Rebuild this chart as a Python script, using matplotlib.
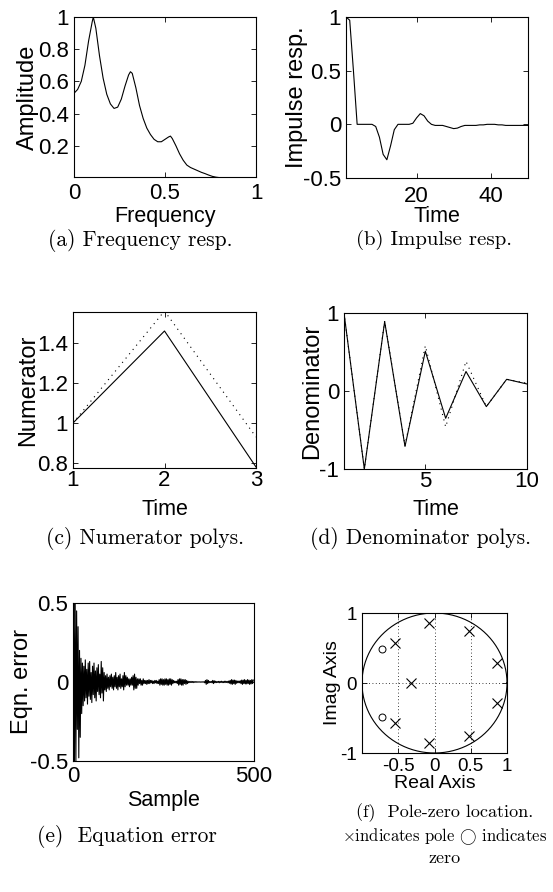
import numpy as np
import matplotlib
matplotlib.use("Agg")
import matplotlib.pyplot as plt

plt.rcParams['font.family'] = ['Liberation Sans', 'DejaVu Sans']
plt.rcParams['mathtext.fontset'] = 'cm'
plt.rcParams['axes.unicode_minus'] = False

# ---------------- data ----------------
# (a) frequency response
freq = [0.0, 0.02, 0.04, 0.06, 0.08, 0.10, 0.106, 0.12, 0.14, 0.16, 0.18, 0.20,
        0.22, 0.24, 0.26, 0.28, 0.30, 0.31, 0.32, 0.34, 0.36, 0.38, 0.40, 0.42,
        0.44, 0.46, 0.48, 0.50, 0.52, 0.53, 0.54, 0.56, 0.58, 0.60, 0.62, 0.64,
        0.66, 0.68, 0.70, 0.72, 0.74, 0.76, 0.78, 0.80, 0.85, 0.90, 0.95, 1.0]
amplitude = [0.526, 0.55, 0.60, 0.70, 0.85, 0.97, 1.0, 0.93, 0.76, 0.62, 0.52, 0.46,
             0.432, 0.44, 0.49, 0.57, 0.64, 0.66, 0.65, 0.56, 0.45, 0.37, 0.31, 0.27,
             0.24, 0.225, 0.225, 0.24, 0.255, 0.26, 0.245, 0.20, 0.15, 0.11, 0.08, 0.065,
             0.055, 0.045, 0.035, 0.027, 0.018, 0.01, 0.005, 0.002, 0.001, 0.0, 0.0, 0.0]

# (b) impulse response
imp_time = list(range(1, 51))
impulse = [1.0, 0.97, 0.5, 0.0, 0.0, 0.0, 0.0, 0.0, -0.02, -0.12,
           -0.28, -0.33, -0.2, -0.05, 0.0, 0.0, 0.0, 0.0, 0.01, 0.06,
           0.1, 0.08, 0.03, 0.0, -0.01, -0.01, -0.01, -0.02, -0.03, -0.04,
           -0.035, -0.02, -0.01, -0.01, -0.01, -0.01, -0.005, -0.005, 0.0, 0.0,
           0.0, -0.005, -0.005, -0.01, -0.01, -0.01, -0.01, -0.01, -0.01, -0.01]

# (c) numerator polynomials
num_time = [1, 2, 3]
num_est = [1.0, 1.46, 0.78]
num_true = [1.0, 1.56, 0.93]

# (d) denominator polynomials
den_time = list(range(1, 11))
den_est = [1.0, -1.0, 0.89, -0.71, 0.51, -0.35, 0.25, -0.2, 0.15, 0.09]
den_true = [1.0, -1.0, 0.9, -0.7, 0.58, -0.46, 0.38, -0.2, 0.15, 0.1]

# (e) equation error (every 2nd sample)
eqn_error = [
    0.1, 0.5, -0.5, 0.5, -0.5, 0.45, -0.3, 0.35, -0.48, 0.2,
    -0.35, 0.15, -0.2, 0.12, -0.15, 0.1, -0.12, 0.14, -0.1, 0.08,
    -0.14, 0.12, -0.09, 0.13, -0.11, 0.06, -0.13, 0.1, -0.08, 0.12,
    -0.1, 0.07, -0.12, 0.09, -0.06, 0.11, -0.08, 0.05, -0.1, 0.13,
    -0.07, 0.09, -0.12, 0.06, -0.05, 0.04, -0.06, 0.05, -0.04, 0.03,
    -0.05, 0.04, -0.03, 0.05, -0.04, 0.03, -0.05, 0.04, -0.03, 0.06,
    -0.04, 0.03, -0.05, 0.04, -0.03, 0.05, -0.04, 0.02, -0.03, 0.04,
    -0.05, 0.06, -0.03, 0.04, -0.02, 0.03, -0.02, 0.02, -0.03, 0.02,
    -0.02, 0.03, -0.02, 0.04, -0.05, 0.05, -0.04, 0.03, -0.04, 0.02,
    -0.02, 0.02, -0.01, 0.02, -0.02, 0.01, -0.02, 0.02, -0.01, 0.01,
    -0.01, 0.01, -0.015, 0.01, -0.01, 0.015, -0.01, 0.01, -0.005, 0.01,
    -0.01, 0.005, -0.01, 0.01, -0.005, 0.01, -0.01, 0.005, -0.01, 0.015,
    -0.02, 0.02, -0.015, 0.02, -0.02, 0.015, -0.02, 0.02, -0.015, 0.02,
    -0.02, 0.015, -0.02, 0.02, -0.015, 0.02, -0.02, 0.015, -0.01, 0.01,
    -0.005, 0.005, -0.005, 0.005, -0.01, 0.015, -0.02, 0.02, -0.015, 0.02,
    -0.02, 0.015, -0.02, 0.015, -0.01, 0.015, -0.015, 0.01, -0.01, 0.005,
    -0.005, 0.003, -0.003, 0.004, -0.003, 0.003, -0.004, 0.003, -0.002, 0.002,
    -0.002, 0.002, -0.001, 0.001, -0.001, 0.001, -0.001, 0.001, -0.001, 0.001,
    -0.001, 0.002, -0.005, 0.01, -0.015, 0.015, -0.01, 0.01, -0.005, 0.003,
    -0.003, 0.004, -0.005, 0.01, -0.01, 0.008, -0.005, 0.005, -0.004, 0.003,
    -0.003, 0.004, -0.005, 0.004, -0.003, 0.005, -0.004, 0.003, -0.004, 0.005,
    -0.004, 0.005, -0.003, 0.004, -0.005, 0.006, -0.008, 0.01, -0.012, 0.015,
    -0.015, 0.012, -0.01, 0.012, -0.015, 0.01, -0.008, 0.006, -0.005, 0.006,
    -0.005, 0.008, -0.01, 0.012, -0.015, 0.012, -0.01, 0.015, -0.012, 0.01,
    -0.012, 0.015, -0.01, 0.012, -0.015, 0.01, -0.012, 0.015, -0.01, 0.012]
eqn_sample = np.arange(0, 2 * len(eqn_error), 2)

# (f) poles and zeros
pole_re = [-0.08, -0.08, 0.48, 0.48, 0.86, 0.86, -0.54, -0.54, -0.32]
pole_im = [0.86, -0.86, 0.75, -0.75, 0.29, -0.29, 0.57, -0.57, 0.0]
zero_re = [-0.72, -0.72]
zero_im = [0.49, -0.49]

captions = [r'(a) Frequency resp.', r'(b) Impulse resp.', r'(c) Numerator polys.',
            r'(d) Denominator polys.', r'(e)  Equation error']

# ---------------- layout ----------------
W, H = 553, 892
fig = plt.figure(figsize=(W / 100, H / 100), dpi=100)

TICK_FS, XL_FS, YL_FS = 16, 15.5, 17


def ax_at(l, t, r, b):
    return fig.add_axes([l / W, 1 - b / H, (r - l) / W, (b - t) / H])


def style(ax, fs=TICK_FS, xpad=3.0):
    ax.tick_params(direction='in', top=True, right=True, length=3.5, width=0.6,
                   labelsize=fs, colors='black')
    ax.tick_params(axis='y', pad=3.5)
    ax.tick_params(axis='x', pad=xpad)
    for s in ax.spines.values():
        s.set_linewidth(0.8)


def labels(ax, xl, yl, l, t, r, b, xtop, yright, xfs=XL_FS, yfs=YL_FS):
    ax.set_xlabel(xl, fontsize=xfs, va='top')
    ax.set_ylabel(yl, fontsize=yfs)
    ax.xaxis.set_label_coords(0.5, (b - xtop) / (b - t))
    ax.yaxis.set_label_coords((yright - l) / (r - l), 0.5)


def caption(x, y, s, fs=15.5):
    fig.text(x / W, 1 - y / H, s, ha='center', va='center', fontsize=fs,
             family='cmr10')


lw = 0.8

# (a)
box = (74, 17, 256, 177)
ax = ax_at(*box)
ax.plot(freq, amplitude, color='black', lw=lw)
ax.set_xlim(0, 1)
ax.set_ylim(0.006, 1.0)
ax.set_xticks([0, 0.5, 1])
ax.set_xticklabels(['0', '0.5', '1'])
ax.set_yticks([0.2, 0.4, 0.6, 0.8, 1])
ax.set_yticklabels(['0.2', '0.4', '0.6', '0.8', '1'])
style(ax, xpad=4.0)
labels(ax, 'Frequency', 'Amplitude', *box, xtop=206, yright=39)
caption(140, 240, captions[0])

# (b)
box = (346, 17, 528, 178)
ax = ax_at(*box)
ax.plot(imp_time, impulse, color='black', lw=lw)
ax.set_xlim(1, 50)
ax.set_ylim(-0.5, 1.0)
ax.set_xticks([20, 40])
ax.set_yticks([-0.5, 0, 0.5, 1])
ax.set_yticklabels(['-0.5', '0', '0.5', '1'])
style(ax, xpad=6.0)
labels(ax, 'Time', 'Impulse resp.', *box, xtop=206, yright=308)
caption(434, 240, captions[1], fs=15)

# (c)
box = (73, 312, 256, 468)
ax = ax_at(*box)
ax.plot(num_time, num_est, color='black', lw=lw)
ax.plot(num_time, num_true, color='black', lw=lw, ls=(0, (1, 4)))
ax.set_xlim(1, 3)
ax.set_ylim(0.775, 1.555)
ax.set_xticks([1, 2, 3])
ax.set_yticks([0.8, 1.0, 1.2, 1.4])
ax.set_yticklabels(['0.8', '1', '1.2', '1.4'])
style(ax, xpad=1.5)
labels(ax, 'Time', 'Numerator', *box, xtop=499, yright=39)
caption(145, 539, captions[2])

# (d)
box = (344, 313, 527, 469)
ax = ax_at(*box)
ax.plot(den_time, den_est, color='black', lw=lw)
ax.plot(den_time, den_true, color='black', lw=lw, ls=(0, (1, 4)))
ax.set_xlim(1, 10)
ax.set_ylim(-1, 1)
ax.set_xticks([5, 10])
ax.set_yticks([-1, 0, 1])
style(ax, xpad=1.5)
labels(ax, 'Time', 'Denominator', *box, xtop=499, yright=323)
caption(421, 539, captions[3])

# (e)
box = (73, 603, 254, 761)
ax = ax_at(*box)
ax.plot(eqn_sample, eqn_error, color='black', lw=lw)
ax.set_xlim(0, 500)
ax.set_ylim(-0.5, 0.5)
ax.set_xticks([0, 500])
ax.set_yticks([-0.5, 0, 0.5])
ax.set_yticklabels(['-0.5', '0', '0.5'])
style(ax, xpad=3.5)
labels(ax, 'Sample', 'Eqn. error', *box, xtop=790, yright=33)
caption(127, 837, captions[4])

# (f)
box = (362, 613, 507, 753)
ax = ax_at(*box)
th = np.linspace(0, 2 * np.pi, 400)
ax.plot(np.cos(th), np.sin(th), color='black', lw=lw)
for gx in [-0.5, 0, 0.5]:
    ax.axvline(gx, color='black', lw=0.6, ls=(0, (1, 3)))
ax.axhline(0, color='black', lw=0.6, ls=(0, (1, 3)))
ax.plot(pole_re, pole_im, ls='none', marker='x', ms=6.5, mew=0.8, color='black')
ax.plot(zero_re, zero_im, ls='none', marker='o', ms=5, mew=0.7,
        mfc='none', color='black')
ax.set_xlim(-1, 1)
ax.set_ylim(-1, 1)
ax.set_xticks([-0.5, 0, 0.5, 1])
ax.set_xticklabels(['-0.5', '0', '0.5', '1'])
ax.set_yticks([-1, 0, 1])
style(ax, fs=13.5, xpad=3.5)
labels(ax, 'Real Axis', 'Imag Axis', *box, xtop=775, yright=341,
       xfs=14, yfs=14)
caption(445, 813, r'(f)  Pole-zero location.', fs=13)
caption(445, 837, r'$\times$indicates pole $\bigcirc$ indicates', fs=12)
caption(445, 858, r'zero', fs=13)

fig.savefig('out.png', dpi=100)
